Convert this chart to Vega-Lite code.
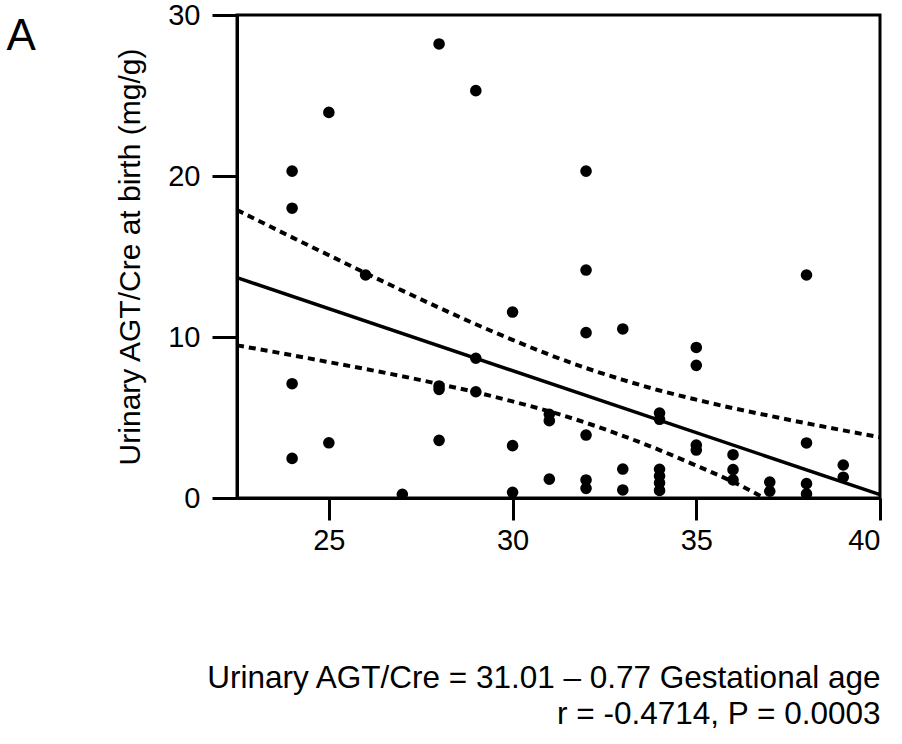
{
  "$schema": "https://vega.github.io/schema/vega-lite/v6.json",
  "width": 643,
  "height": 483,
  "autosize": {"type": "none"},
  "padding": {"left": 237, "top": 15, "right": 22, "bottom": 246},
  "background": "white",
  "config": {
    "font": "Liberation Sans",
    "view": {"stroke": "black", "strokeWidth": 3},
    "axis": {
      "grid": false,
      "domainColor": "black",
      "domainWidth": 3,
      "tickColor": "black",
      "tickWidth": 3,
      "labelColor": "black",
      "labelFontSize": 29,
      "titleColor": "black",
      "titleFontWeight": "normal",
      "labelFont": "Liberation Sans",
      "titleFont": "Liberation Sans"
    }
  },
  "title": {
    "text": "A",
    "orient": "left",
    "anchor": "end",
    "frame": "group",
    "angle": 0,
    "align": "left",
    "baseline": "top",
    "dx": -80,
    "offset": 0,
    "fontSize": 44,
    "fontWeight": "normal",
    "color": "black",
    "font": "Liberation Sans"
  },
  "datasets": {
    "points": [
      {"ga": 24, "v": 20.3}, {"ga": 24, "v": 18.0}, {"ga": 24, "v": 7.1}, {"ga": 24, "v": 2.46},
      {"ga": 25, "v": 23.95}, {"ga": 25, "v": 3.43},
      {"ga": 26, "v": 13.85},
      {"ga": 27, "v": 0.23},
      {"ga": 28, "v": 28.2}, {"ga": 28, "v": 6.96}, {"ga": 28, "v": 6.75}, {"ga": 28, "v": 3.58},
      {"ga": 29, "v": 25.3}, {"ga": 29, "v": 8.68}, {"ga": 29, "v": 6.6},
      {"ga": 30, "v": 11.55}, {"ga": 30, "v": 3.25}, {"ga": 30, "v": 0.35},
      {"ga": 31, "v": 5.2}, {"ga": 31, "v": 4.8}, {"ga": 31, "v": 1.17},
      {"ga": 32, "v": 20.3}, {"ga": 32, "v": 14.16}, {"ga": 32, "v": 10.27}, {"ga": 32, "v": 3.91}, {"ga": 32, "v": 1.12}, {"ga": 32, "v": 0.6},
      {"ga": 33, "v": 10.5}, {"ga": 33, "v": 1.8}, {"ga": 33, "v": 0.5},
      {"ga": 34, "v": 5.28}, {"ga": 34, "v": 4.89}, {"ga": 34, "v": 1.78}, {"ga": 34, "v": 1.36}, {"ga": 34, "v": 0.94}, {"ga": 34, "v": 0.47},
      {"ga": 35, "v": 9.35}, {"ga": 35, "v": 8.24}, {"ga": 35, "v": 3.29}, {"ga": 35, "v": 2.98},
      {"ga": 36, "v": 2.69}, {"ga": 36, "v": 1.76}, {"ga": 36, "v": 1.12},
      {"ga": 37, "v": 0.99}, {"ga": 37, "v": 0.42},
      {"ga": 38, "v": 13.85}, {"ga": 38, "v": 3.42}, {"ga": 38, "v": 0.89}, {"ga": 38, "v": 0.25},
      {"ga": 39, "v": 2.05}, {"ga": 39, "v": 1.29}
    ],
    "fit": [
      {"ga": 22.5, "v": 13.685},
      {"ga": 40, "v": 0.21}
    ],
    "upper": [
      {"ga": 22.5, "v": 17.89}, {"ga": 23, "v": 17.32}, {"ga": 24, "v": 16.19}, {"ga": 25, "v": 15.08},
      {"ga": 26, "v": 13.97}, {"ga": 27, "v": 12.88}, {"ga": 28, "v": 11.82}, {"ga": 29, "v": 10.79},
      {"ga": 30, "v": 9.82}, {"ga": 31, "v": 8.9}, {"ga": 32, "v": 8.07}, {"ga": 33, "v": 7.34},
      {"ga": 34, "v": 6.68}, {"ga": 35, "v": 6.11}, {"ga": 36, "v": 5.58}, {"ga": 37, "v": 5.1},
      {"ga": 38, "v": 4.64}, {"ga": 39, "v": 4.2}, {"ga": 40, "v": 3.77}
    ],
    "lower": [
      {"ga": 22.5, "v": 9.48}, {"ga": 23, "v": 9.28}, {"ga": 24, "v": 8.87}, {"ga": 25, "v": 8.44},
      {"ga": 26, "v": 8.01}, {"ga": 27, "v": 7.56}, {"ga": 28, "v": 7.08}, {"ga": 29, "v": 6.57},
      {"ga": 30, "v": 6.0}, {"ga": 31, "v": 5.38}, {"ga": 32, "v": 4.67}, {"ga": 33, "v": 3.86},
      {"ga": 34, "v": 2.98}, {"ga": 35, "v": 2.01}, {"ga": 36, "v": 1.0}, {"ga": 36.85, "v": 0.0}
    ]
  },
  "encoding": {
    "x": {
      "field": "ga",
      "type": "quantitative",
      "scale": {"domain": [22.5, 40], "nice": false, "zero": false},
      "axis": {
        "values": [25, 30, 35, 40],
        "tickSize": 22,
        "labelPadding": 6,
        "title": ["Urinary AGT/Cre = 31.01 – 0.77 Gestational age", "r = -0.4714, P = 0.0003"],
        "titleFontSize": 31.5,
        "titleAnchor": "end",
        "titleAlign": "right",
        "titleLineHeight": 36,
        "titlePadding": 107
      }
    },
    "y": {
      "field": "v",
      "type": "quantitative",
      "scale": {"domain": [0, 30], "nice": false},
      "axis": {
        "values": [0, 10, 20, 30],
        "tickSize": 25,
        "labelPadding": 12,
        "title": "Urinary AGT/Cre at birth (mg/g)",
        "titleFontSize": 30,
        "titlePadding": 22
      }
    }
  },
  "layer": [
    {
      "data": {"name": "upper"},
      "mark": {"type": "line", "color": "black", "strokeWidth": 4, "strokeDash": [7, 5], "interpolate": "monotone"}
    },
    {
      "data": {"name": "lower"},
      "mark": {"type": "line", "color": "black", "strokeWidth": 4, "strokeDash": [7, 5], "interpolate": "monotone"}
    },
    {
      "data": {"name": "fit"},
      "mark": {"type": "line", "color": "black", "strokeWidth": 3.5}
    },
    {
      "data": {"name": "points"},
      "mark": {"type": "circle", "color": "black", "opacity": 1, "size": 135}
    }
  ]
}
